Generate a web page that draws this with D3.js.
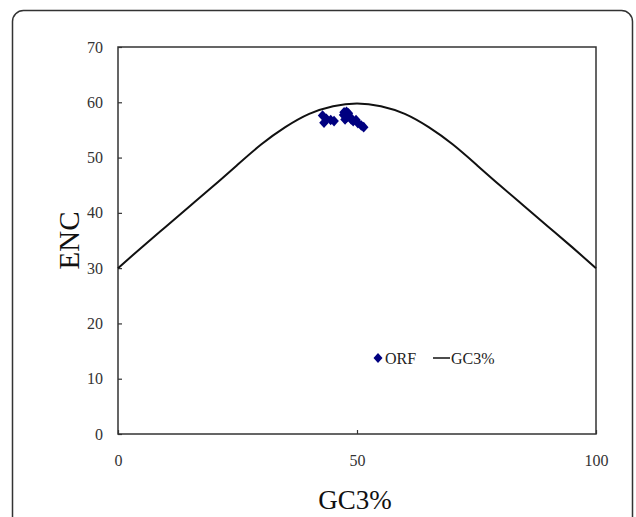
<!DOCTYPE html>
<html>
<head>
<meta charset="utf-8">
<script src="https://cdn.jsdelivr.net/npm/d3@7"></script>
<style>
  html, body { margin: 0; padding: 0; background: #fff; }
  svg { display: block; }
</style>
</head>
<body>
<svg id="chart" width="636" height="517"></svg>
<script>
// ---- data ----
const curveGC  = [0, 5, 10, 15, 20, 25, 30, 35, 40, 45, 50, 55, 60, 65, 70, 75, 80, 85, 90, 95, 100];
const curveENC = [30, 33.8, 37.5, 41.2, 44.9, 48.7, 52.4, 55.5, 57.9, 59.3, 59.8, 59.3, 57.9, 55.5, 52.4, 48.7, 44.9, 41.2, 37.5, 33.8, 30];
const orfGC  = [42.8, 43.1, 43.6, 44.5, 45.2, 47.8, 47.2, 48.5, 47.5, 48.2, 49.2, 50.2, 50.9, 51.4, 47.8, 48.8, 49.8, 47.3];
const orfENC = [57.6, 56.3, 57.0, 56.8, 56.6, 58.3, 57.7, 57.4, 56.9, 58.0, 56.6, 56.2, 55.8, 55.5, 57.2, 56.9, 56.8, 58.2];
const xTicks = [0, 50, 100];
const yTicks = [0, 10, 20, 30, 40, 50, 60, 70];
const legendLabels = ["ORF", "GC3%"];
const axisTitles = { x: "GC3%", y: "ENC" };

// ---- layout ----
const svg = d3.select("#chart");
const plot = { left: 118, right: 596, top: 47, bottom: 434 };
const x = d3.scaleLinear().domain([0, 100]).range([plot.left, plot.right]);
const y = d3.scaleLinear().domain([0, 70]).range([plot.bottom, plot.top]);
const serif = "'Liberation Serif', 'DejaVu Serif', serif";

// outer rounded frame
svg.append("rect")
  .attr("x", 12.5).attr("y", 10.5)
  .attr("width", 620).attr("height", 540)
  .attr("rx", 11).attr("ry", 11)
  .attr("fill", "none").attr("stroke", "#333").attr("stroke-width", 1.5);

// plot box
svg.append("rect")
  .attr("x", plot.left).attr("y", plot.top)
  .attr("width", plot.right - plot.left).attr("height", plot.bottom - plot.top)
  .attr("fill", "none").attr("stroke", "#333").attr("stroke-width", 1.5);

// y axis (ticks pointing inward)
const yAxis = svg.append("g")
  .attr("transform", `translate(${plot.left},0)`)
  .call(d3.axisLeft(y).tickValues(yTicks).tickSizeInner(-4).tickSizeOuter(0).tickPadding(15));
yAxis.select(".domain").remove();
yAxis.selectAll("line").attr("stroke", "#333").attr("stroke-width", 1.2);
yAxis.selectAll("text").attr("font-family", serif).attr("font-size", 16).attr("fill", "#333");

// x axis (ticks pointing inward)
const xAxis = svg.append("g")
  .attr("transform", `translate(0,${plot.bottom})`)
  .call(d3.axisBottom(x).tickValues(xTicks).tickSizeInner(-4).tickSizeOuter(0).tickPadding(21));
xAxis.select(".domain").remove();
xAxis.selectAll("line").attr("stroke", "#333").attr("stroke-width", 1.2);
xAxis.selectAll("text").attr("font-family", serif).attr("font-size", 16).attr("fill", "#333");

// axis titles
svg.append("text")
  .attr("transform", `translate(79,${(plot.top + plot.bottom) / 2}) rotate(-90)`)
  .attr("text-anchor", "middle")
  .attr("font-family", serif).attr("font-size", 29).attr("fill", "#111")
  .text(axisTitles.y);
svg.append("text")
  .attr("x", 355).attr("y", 509)
  .attr("text-anchor", "middle")
  .attr("font-family", serif).attr("font-size", 27).attr("fill", "#111")
  .text(axisTitles.x);

// expected curve
const curvePts = curveGC.map((g, i) => [g, curveENC[i]]);
svg.append("path")
  .datum(curvePts)
  .attr("d", d3.line().x(d => x(d[0])).y(d => y(d[1])).curve(d3.curveNatural))
  .attr("fill", "none").attr("stroke", "#111").attr("stroke-width", 2);

// ORF diamonds
const diamond = (cx, cy, w, h) => `M${cx},${cy - h}L${cx + w},${cy}L${cx},${cy + h}L${cx - w},${cy}Z`;
svg.append("g").selectAll("path")
  .data(orfGC.map((g, i) => [g, orfENC[i]]))
  .join("path")
  .attr("d", d => diamond(x(d[0]), y(d[1]), 4.8, 5.3))
  .attr("fill", "#000080");

// legend
const lg = svg.append("g");
lg.append("path").attr("d", diamond(378, 358, 4.5, 5)).attr("fill", "#000080");
lg.append("text").attr("x", 385).attr("y", 364)
  .attr("font-family", serif).attr("font-size", 16).attr("fill", "#222")
  .text(legendLabels[0]);
lg.append("line").attr("x1", 433).attr("x2", 450).attr("y1", 358).attr("y2", 358)
  .attr("stroke", "#111").attr("stroke-width", 1.5);
lg.append("text").attr("x", 451).attr("y", 364)
  .attr("font-family", serif).attr("font-size", 16).attr("fill", "#222")
  .text(legendLabels[1]);
</script>
</body>
</html>
